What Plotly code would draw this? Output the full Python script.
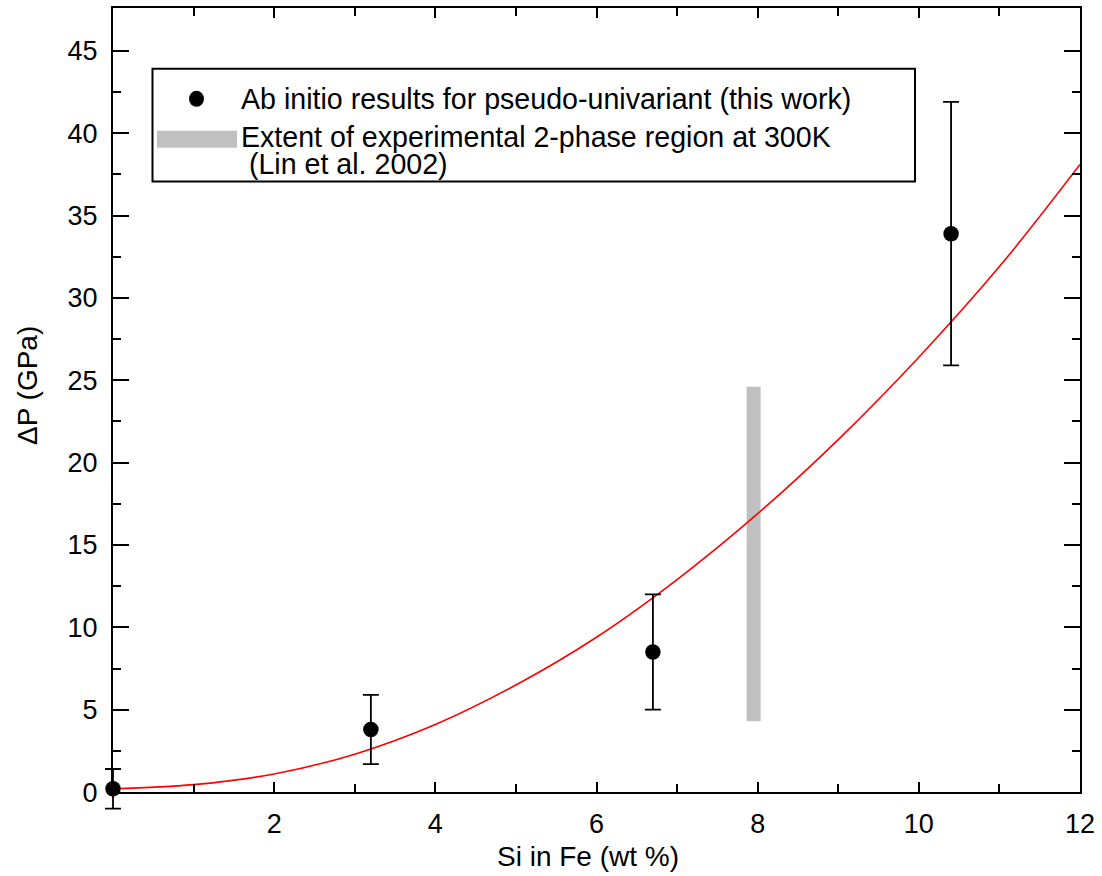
import plotly.graph_objects as go

# Data
si_wt = [0.0, 3.2, 6.7, 10.4]
dp_gpa = [0.2, 3.8, 8.5, 33.9]
dp_err = [1.2, 2.1, 3.5, 8.0]

fit_x = [0, 1, 2, 3, 4, 5, 6, 7, 8, 9, 10, 11, 12]
fit_y = [0.2, 0.45, 1.1, 2.3, 4.1, 6.5, 9.4, 12.9, 16.9, 21.4, 26.4, 31.9, 38.1]

exp_x = [7.95, 7.95]
exp_y = [4.3, 24.6]

legend_labels = [
    "Ab initio results for pseudo-univariant (this work)",
    "Extent of experimental 2-phase region at 300K",
    " (Lin et al. 2002)",
]

x_range = [0, 12]
y_range = [0, 47.6]
x_ticks = [2, 4, 6, 8, 10, 12]
x_minor = [1, 3, 5, 7, 9, 11]
y_ticks = [0, 5, 10, 15, 20, 25, 30, 35, 40, 45]
y_minor = [2.5, 7.5, 12.5, 17.5, 22.5, 27.5, 32.5, 37.5, 42.5]

FONT = "Liberation Sans, Arial, sans-serif"

# Layout in pixels
W, H = 1102, 876
AX_L, AX_R, AX_T, AX_B = 113, 1080, 6, 792   # main axes box
PAD = 24                                      # extra unclipped room for error bars
L, R, T, B = AX_L - PAD, W - AX_R, AX_T, H - AX_B - PAD
pw, ph = W - L - R, H - T - B

xdom0 = PAD / pw
ydom0 = PAD / ph
xpu = (AX_R - AX_L) / (x_range[1] - x_range[0])
ypu = (AX_B - AX_T) / (y_range[1] - y_range[0])
x2_range = [x_range[0] - PAD / xpu, x_range[1]]
y2_range = [y_range[0] - PAD / ypu, y_range[1]]

fig = go.Figure()

fig.add_trace(go.Scatter(
    x=exp_x, y=exp_y, mode="lines", xaxis="x", yaxis="y",
    line=dict(color="#c0c0c0", width=14), showlegend=False, hoverinfo="skip"))

fig.add_trace(go.Scatter(
    x=fit_x, y=fit_y, mode="lines", xaxis="x", yaxis="y",
    line=dict(color="#ff0000", width=1.6, shape="spline"),
    showlegend=False))

fig.add_trace(go.Scatter(
    x=si_wt, y=dp_gpa, mode="markers", xaxis="x2", yaxis="y2",
    marker=dict(color="black", size=15.5),
    error_y=dict(type="data", array=dp_err, color="black", thickness=1.8, width=8),
    cliponaxis=False, showlegend=False))


def pxp(xp):
    return (xp - L) / pw


def pyp(yp):
    return (H - B - yp) / ph


shapes = [
    dict(type="rect", xref="paper", yref="paper", x0=pxp(152.5), x1=pxp(915), y0=pyp(180), y1=pyp(67),
         line=dict(color="black", width=2), fillcolor="white", layer="above"),
    dict(type="circle", xref="paper", yref="paper", x0=pxp(189), x1=pxp(204), y0=pyp(105), y1=pyp(89),
         line=dict(color="black", width=0), fillcolor="black", layer="above"),
    dict(type="rect", xref="paper", yref="paper", x0=pxp(157), x1=pxp(237), y0=pyp(146), y1=pyp(129),
         line=dict(width=0), fillcolor="#c0c0c0", layer="above"),
]

LEG_SIZE = 28.6
annotations = [
    dict(xref="paper", yref="paper", x=pxp(239), y=pyp(97), text=legend_labels[0], showarrow=False,
         xanchor="left", yanchor="middle", font=dict(size=LEG_SIZE, color="black", family=FONT)),
    dict(xref="paper", yref="paper", x=pxp(239), y=pyp(135), text=legend_labels[1], showarrow=False,
         xanchor="left", yanchor="middle", font=dict(size=LEG_SIZE, color="black", family=FONT)),
    dict(xref="paper", yref="paper", x=pxp(239), y=pyp(162), text=legend_labels[2], showarrow=False,
         xanchor="left", yanchor="middle", font=dict(size=LEG_SIZE, color="black", family=FONT)),
    dict(xref="paper", yref="paper", x=pxp(27), y=pyp(385), text="ΔP (GPa)", showarrow=False,
         textangle=-90, xanchor="center", yanchor="middle",
         font=dict(size=28, color="black", family=FONT)),
    dict(xref="paper", yref="paper", x=pxp(588), y=pyp(857), text="Si in Fe (wt %)", showarrow=False,
         xanchor="center", yanchor="middle",
         font=dict(size=28, color="black", family=FONT)),
]

fig.update_layout(
    width=W, height=H,
    margin=dict(l=L, r=R, t=T, b=B),
    paper_bgcolor="white", plot_bgcolor="rgba(0,0,0,0)",
    font=dict(family=FONT, color="black"),
    shapes=shapes, annotations=annotations,
    showlegend=False,
    xaxis=dict(
        domain=[xdom0, 1], anchor="y",
        range=x_range, tickvals=x_ticks, ticktext=[str(v) for v in x_ticks],
        ticks="inside", ticklen=10, tickwidth=1.5, tickcolor="black",
        minor=dict(tickvals=x_minor, ticks="inside", ticklen=8, tickwidth=1.5, tickcolor="black"),
        showline=True, linecolor="black", linewidth=2, mirror="ticks",
        showgrid=False, zeroline=False, fixedrange=True,
        tickfont=dict(size=27, family=FONT, color="black"), ticklabelstandoff=7,
    ),
    yaxis=dict(
        domain=[ydom0, 1], anchor="x",
        range=y_range, tickvals=y_ticks, ticktext=[str(v) for v in y_ticks],
        ticks="inside", ticklen=16, tickwidth=2, tickcolor="black",
        minor=dict(tickvals=y_minor, ticks="inside", ticklen=8, tickwidth=2, tickcolor="black"),
        showline=True, linecolor="black", linewidth=2, mirror="ticks",
        showgrid=False, zeroline=False, fixedrange=True,
        tickfont=dict(size=27, family=FONT, color="black"), ticklabelstandoff=8,
    ),
    xaxis2=dict(domain=[0, 1], range=x2_range, visible=False, anchor="y2", fixedrange=True,
                showgrid=False, zeroline=False),
    yaxis2=dict(domain=[0, 1], range=y2_range, visible=False, anchor="x2", fixedrange=True,
                showgrid=False, zeroline=False),
)

fig.write_html("out.html", config={"displayModeBar": False},
               post_script="document.body.style.margin='0px';")
